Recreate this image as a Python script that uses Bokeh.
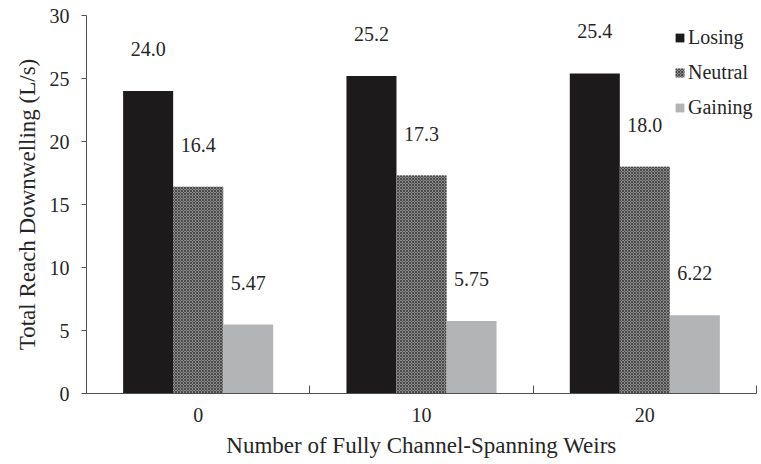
from bokeh.plotting import figure
from bokeh.models import (ColumnDataSource, Range1d, FixedTicker,
                          LabelSet, Legend, LegendItem)
from bokeh.transform import dodge
from bokeh.core.properties import value
from bokeh.embed import file_html
from bokeh.resources import INLINE

# ---- data ----
categories = ["0", "10", "20"]
series_names = ["Losing", "Neutral", "Gaining"]
losing = [24.0, 25.2, 25.4]
neutral = [16.4, 17.3, 18.0]
gaining = [5.47, 5.75, 6.22]
losing_labels = ["24.0", "25.2", "25.4"]
neutral_labels = ["16.4", "17.3", "18.0"]
gaining_labels = ["5.47", "5.75", "6.22"]
y_ticks = [0, 5, 10, 15, 20, 25, 30]

FONT = "'Liberation Serif', 'Times New Roman', Times, serif"
TXT = "#262626"
AX = "#505050"

n = len(categories)
centers = [i + 0.5 for i in range(n)]   # category slot centres on a 0..n axis
bounds = list(range(n + 1))             # category slot boundaries

src = ColumnDataSource(dict(xc=centers, losing=losing, neutral=neutral, gaining=gaining,
                            l_lab=losing_labels, n_lab=neutral_labels, g_lab=gaining_labels))

p = figure(width=760, height=463, x_range=Range1d(0, n), y_range=Range1d(0, 30),
           output_backend="svg", toolbar_location=None,
           min_border_left=86, min_border_right=4, min_border_top=15, min_border_bottom=70)
p.outline_line_color = None
p.grid.visible = False
p.background_fill_color = "white"

W = 0.224
r_l = p.vbar(x=dodge("xc", -W), top="losing", width=W, source=src,
             fill_color="#1c1a1b", line_color=None)
r_n = p.vbar(x=dodge("xc", 0), top="neutral", width=W, source=src,
             fill_color="#8a8a8a", line_color=None, hatch_pattern="diagonal_cross",
             hatch_color="#4a4a4a", hatch_scale=3, hatch_weight=1)
r_g = p.vbar(x=dodge("xc", W), top="gaining", width=W, source=src,
             fill_color="#b3b4b6", line_color=None)

for col, off, top in (("l_lab", -W, "losing"), ("n_lab", 0, "neutral"), ("g_lab", W, "gaining")):
    ls = LabelSet(x=dodge("xc", off), y=top, text=col, source=src,
                  y_offset=42, text_align="center", text_baseline="middle",
                  text_font=value(FONT), text_font_size="20px", text_color=TXT)
    p.add_layout(ls)

# y axis
ya = p.yaxis[0]
ya.ticker = FixedTicker(ticks=y_ticks)
ya.major_tick_out = 5
ya.major_tick_in = 0
ya.minor_tick_out = 0
ya.minor_tick_in = 0
ya.axis_line_color = AX
ya.major_tick_line_color = AX
ya.major_label_text_font = FONT
ya.major_label_text_font_size = "20px"
ya.major_label_text_color = TXT
ya.major_label_standoff = 12
ya.axis_label = "Total Reach Downwelling (L/s)"
ya.axis_label_text_font = FONT
ya.axis_label_text_font_size = "23px"
ya.axis_label_text_font_style = "normal"
ya.axis_label_text_color = TXT
ya.axis_label_standoff = 7

# x axis: labels at slot centres, tick marks at slot boundaries
xa = p.xaxis[0]
xa.ticker = FixedTicker(ticks=centers, minor_ticks=bounds)
xa.major_label_overrides = {c: lab for c, lab in zip(centers, categories)}
xa.major_tick_in = 0
xa.major_tick_out = 0
xa.minor_tick_in = 8
xa.minor_tick_out = 0
xa.minor_tick_line_color = AX
xa.axis_line_color = AX
xa.major_label_text_font = FONT
xa.major_label_text_font_size = "20px"
xa.major_label_text_color = TXT
xa.major_label_standoff = 14
xa.axis_label = "Number of Fully Channel-Spanning Weirs"
xa.axis_label_text_font = FONT
xa.axis_label_text_font_size = "23px"
xa.axis_label_text_font_style = "normal"
xa.axis_label_text_color = TXT
xa.axis_label_standoff = 8

legend = Legend(items=[LegendItem(label=series_names[0], renderers=[r_l]),
                       LegendItem(label=series_names[1], renderers=[r_n]),
                       LegendItem(label=series_names[2], renderers=[r_g])],
                location=(588, 274), orientation="vertical")
legend.border_line_color = None
legend.background_fill_alpha = 0
legend.padding = 0
legend.margin = 0
legend.spacing = 12
legend.glyph_width = 11
legend.glyph_height = 11
legend.label_height = 20
legend.label_standoff = 3
legend.label_text_font = FONT
legend.label_text_font_size = "20px"
legend.label_text_color = TXT
p.add_layout(legend)

open("out.html", "w").write(file_html(p, INLINE))
